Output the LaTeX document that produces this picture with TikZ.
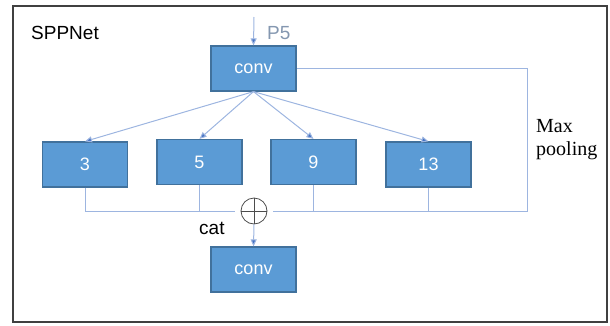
\documentclass[tikz,border=0pt]{standalone}
\usepackage{fontspec}
\setmainfont{Liberation Serif}
\setsansfont{Liberation Sans}
\usetikzlibrary{arrows.meta}

\definecolor{boxfill}{HTML}{5B9BD5}
\definecolor{boxline}{HTML}{41719C}
\definecolor{wirecol}{HTML}{9DB5E0}
\definecolor{tipcol}{HTML}{4472C4}
\definecolor{pcol}{HTML}{8497B0}

\tikzset{
    block/.style={draw=boxline, fill=boxfill, line width=1.2pt, minimum width=85pt, minimum height=45pt, text=white, font=\sffamily\fontsize{18}{20}\selectfont},
    wire/.style={draw=wirecol, line width=1pt},
    arr/.style={wire, -{Triangle[length=7pt,width=6pt,fill=tipcol]}},
    lbl/.style={inner sep=0pt, font=\sffamily\fontsize{19}{22}\selectfont}
}

\begin{document}
\begin{tikzpicture}[x=1pt,y=-1pt]
        \useasboundingbox (0,0) rectangle (610,325);
        \draw[line width=1.5pt, draw=black!75] (13,6) rectangle (607,322);

        \node[lbl, anchor=west] (title) at (31,33) {SPPNet};
        \node[lbl, anchor=west, text=pcol] (p5) at (267,33) {P5};
        \coordinate (in) at (254,17);

        \node[block] (conv) at (253.5,68.5) {conv};
        \node[block] (k3) at (85,164.5) {3};
        \node[block] (k5) at (199.5,162) {5};
        \node[block] (k9) at (313.5,162) {9};
        \node[block] (k13) at (428.5,164.5) {13};
        \node[block] (out) at (253.5,269.5) {conv};

        \node[circle, draw=black!70, line width=0.8pt, minimum size=26pt, inner sep=0pt] (cat) at (254,211) {};
        \draw[black!70, line width=0.8pt] (cat.north) -- (cat.south) (cat.west) -- (cat.east);
        \node[lbl, anchor=west] (catlbl) at (199,228) {cat};
        \node[inner sep=0pt, anchor=north west, align=left, font=\fontsize{20}{23}\selectfont] (pool) at (536,119) {Max\\pooling};
        \coordinate (corner) at (527,211);

        % Edges
        \draw[arr] (in) -- (conv.north);
        \foreach \k in {k3,k5,k9,k13}
            \draw[arr] (conv.south) -- (\k.north);
        \draw[wire] (k3.south) -- (k3.south |- cat) -- ([xshift=-6pt]cat.west);
        \draw[wire] (k5.south) -- (k5.south |- cat);
        \draw[wire] ([xshift=6pt]cat.east) -- (corner) |- (conv.east);
        \draw[wire] (k9.south) -- (k9.south |- cat);
        \draw[wire] (k13.south) -- (k13.south |- cat);
        \draw[arr] (cat.south) -- (out.north);
\end{tikzpicture}
\end{document}
